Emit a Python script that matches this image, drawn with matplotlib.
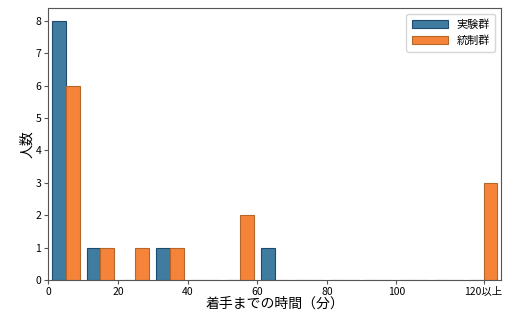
import numpy as np
import matplotlib
matplotlib.use('Agg')
import matplotlib.pyplot as plt

plt.rcParams['font.family'] = ['Noto Sans CJK JP', 'DejaVu Sans']

# bins of 10 minutes, the last one is "120 or more"
bin_edges = np.arange(0, 130, 10)
exp_counts = [8, 1, 0, 1, 0, 0, 1, 0, 0, 0, 0, 0, 0]   # 実験群
ctl_counts = [6, 1, 1, 1, 0, 2, 0, 0, 0, 0, 0, 0, 3]   # 統制群
group_names = ['実験群', '統制群']
tick_pos = [0, 20, 40, 60, 80, 100, 125]
tick_labels = ['0', '20', '40', '60', '80', '100', '120以上']

fig = plt.figure(figsize=(5.24, 3.12), dpi=100)
ax = fig.add_axes([0.092, 0.103, 0.864, 0.871])

ax.bar(bin_edges + 1, exp_counts, width=4, align='edge',
       color='#3f7ca0', edgecolor='#1f4a70', linewidth=0.8, label=group_names[0])
ax.bar(bin_edges + 5, ctl_counts, width=4, align='edge',
       color='#f5843a', edgecolor='#b5672a', linewidth=0.8, label=group_names[1])

ax.set_xlim(0, 130)
ax.set_ylim(0, 8.4)
ax.set_xticks(tick_pos)
ax.set_xticklabels(tick_labels)
ax.set_yticks(range(0, 9))
ax.tick_params(labelsize=7.5, length=3, width=0.8, color='#555555', pad=2)
for s in ax.spines.values():
    s.set_color('#555555')

ax.set_xlabel('着手までの時間（分）', fontsize=10, labelpad=0)
ax.set_ylabel('人数', fontsize=10, labelpad=1)
ax.legend(loc='upper right', fontsize=8, handlelength=3.2, borderpad=0.5)

fig.savefig('out.png', dpi=100)
